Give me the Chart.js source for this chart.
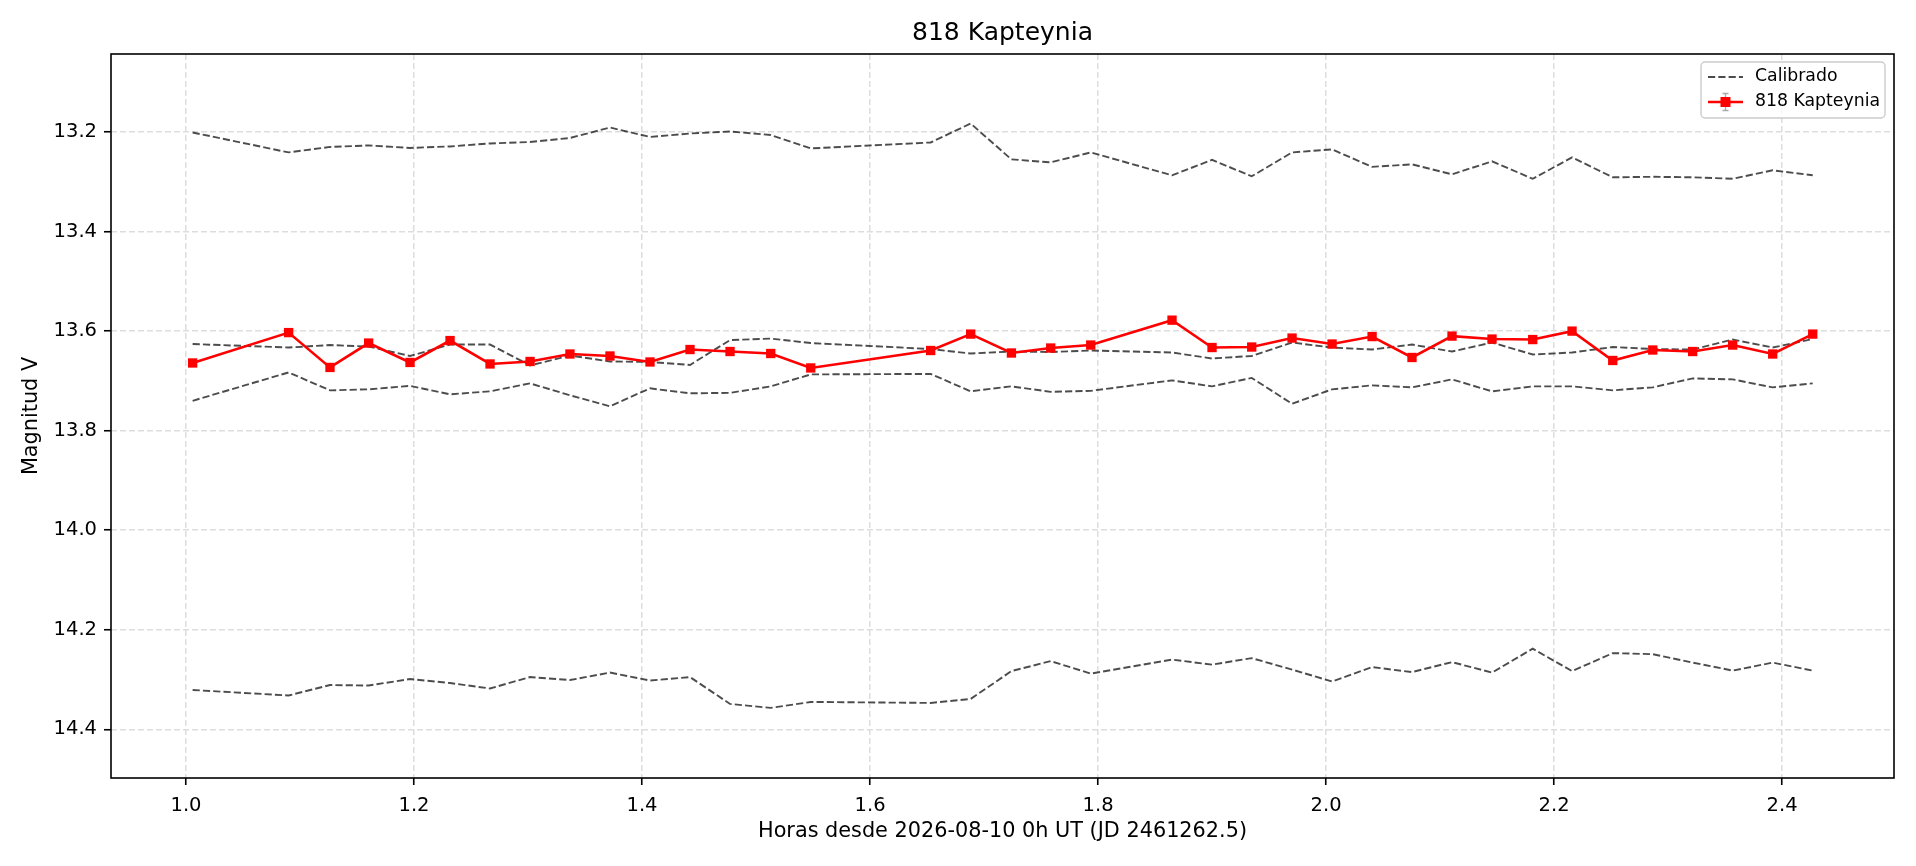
<!DOCTYPE html>
<html>
<head>
<meta charset="utf-8">
<title>818 Kapteynia</title>
<script src="https://cdn.jsdelivr.net/npm/chart.js@4.4.1/dist/chart.umd.min.js"></script>
<style>
    html, body { margin: 0; padding: 0; background: #ffffff; }
    #wrap { width: 1916px; height: 866px; }
</style>
</head>
<body>
<div id="wrap"><canvas id="lightCurve" width="1916" height="866"></canvas></div>
<script>
// ===============================
// DATA
// ===============================
const hours = [
    1.0058, 1.0900, 1.1263, 1.1602, 1.1965, 1.2316, 1.2667, 1.3018, 1.3368, 1.3719,
    1.4070, 1.4421, 1.4772, 1.5129, 1.5480, 1.6532, 1.6883, 1.7240, 1.7585, 1.7936,
    1.8649, 1.9000, 1.9348, 1.9702, 2.0053, 2.0404, 2.0754, 2.1105, 2.1456, 2.1813,
    2.2158, 2.2515, 2.2866, 2.3216, 2.3567, 2.3918, 2.4269
];

const targetMag = [
    13.664, 13.603, 13.673, 13.624, 13.663, 13.619, 13.666, 13.661, 13.646, 13.650,
    13.662, 13.637, 13.641, 13.645, 13.674, 13.639, 13.606, 13.644, 13.634, 13.628,
    13.578, 13.633, 13.632, 13.614, 13.626, 13.611, 13.653, 13.610, 13.616, 13.617,
    13.600, 13.659, 13.638, 13.641, 13.628, 13.646, 13.606
];

// calibrated comparison stars
const compUpper = [
    13.201, 13.241, 13.230, 13.227, 13.232, 13.229, 13.223, 13.220, 13.212, 13.191,
    13.210, 13.203, 13.199, 13.206, 13.233, 13.221, 13.183, 13.255, 13.261, 13.241,
    13.287, 13.256, 13.289, 13.241, 13.235, 13.270, 13.265, 13.285, 13.259, 13.294,
    13.251, 13.291, 13.290, 13.291, 13.294, 13.277, 13.287
];

const compMidA = [
    13.626, 13.633, 13.628, 13.631, 13.650, 13.627, 13.627, 13.669, 13.649, 13.661,
    13.662, 13.668, 13.618, 13.615, 13.624, 13.636, 13.645, 13.641, 13.642, 13.639,
    13.643, 13.655, 13.650, 13.623, 13.633, 13.637, 13.627, 13.641, 13.623, 13.647,
    13.643, 13.632, 13.636, 13.637, 13.617, 13.633, 13.616
];

const compMidB = [
    13.740, 13.683, 13.719, 13.717, 13.710, 13.727, 13.721, 13.705, 13.729, 13.751,
    13.715, 13.725, 13.724, 13.711, 13.687, 13.686, 13.721, 13.711, 13.722, 13.720,
    13.699, 13.711, 13.694, 13.746, 13.717, 13.709, 13.713, 13.697, 13.721, 13.711,
    13.711, 13.719, 13.713, 13.695, 13.697, 13.713, 13.705
];

const compLower = [
    14.321, 14.332, 14.311, 14.312, 14.299, 14.307, 14.318, 14.295, 14.301, 14.286,
    14.302, 14.295, 14.349, 14.357, 14.345, 14.347, 14.339, 14.283, 14.263, 14.288,
    14.260, 14.270, 14.257, 14.280, 14.304, 14.275, 14.285, 14.265, 14.286, 14.238,
    14.283, 14.247, 14.249, 14.266, 14.282, 14.266, 14.282
];

const xTickValues = [1.0, 1.2, 1.4, 1.6, 1.8, 2.0, 2.2, 2.4];
const yTickValues = [13.2, 13.4, 13.6, 13.8, 14.0, 14.2, 14.4];

const chartTitle = "818 Kapteynia";
const xTitle = "Horas desde 2026-08-10 0h UT (JD 2461262.5)";
const yTitle = "Magnitud V";

// ===============================
// STYLE
// ===============================
const FONT = "'DejaVu Sans', 'Liberation Sans', sans-serif";
const compColor = "rgba(0,0,0,0.7)";
const compDash = [7.2, 3.1];
const targetColor = "#ff0000";

function toPoints(values) {
    return hours.map((h, i) => ({ x: h, y: values[i] }));
}

function compDataset(label, values) {
    return {
        label: label,
        data: toPoints(values),
        borderColor: compColor,
        borderWidth: 1.9,
        borderDash: compDash,
        pointRadius: 0,
        pointHoverRadius: 0,
        fill: false,
        tension: 0,
        order: 1
    };
}

// ===============================
// PLUGINS
// ===============================

// full black frame round the plot area (matplotlib spines)
const framePlugin = {
    id: "frame",
    afterDraw(chart) {
        const { ctx, chartArea: a } = chart;
        ctx.save();
        ctx.strokeStyle = "#000000";
        ctx.lineWidth = 1.6;
        ctx.strokeRect(a.left, a.top, a.right - a.left, a.bottom - a.top);
        ctx.restore();
    }
};

// legend box in the upper right corner of the plot
const cornerLegend = {
    id: "cornerLegend",
    afterDraw(chart) {
        const ctx = chart.ctx;
        const a = chart.chartArea;
        const sets = chart.data.datasets;

        const boxW = 184, boxH = 56;
        const x0 = a.right - 9 - boxW;
        const y0 = a.top + 8;

        ctx.save();
        ctx.beginPath();
        ctx.roundRect(x0, y0, boxW, boxH, 4);
        ctx.fillStyle = "rgba(255,255,255,0.8)";
        ctx.fill();
        ctx.strokeStyle = "#cccccc";
        ctx.lineWidth = 1.4;
        ctx.stroke();

        const lx1 = x0 + 7, lx2 = x0 + 42, lxm = (lx1 + lx2) / 2;
        const row1 = y0 + 15, row2 = y0 + 40;

        // Calibrado
        ctx.beginPath();
        ctx.setLineDash(compDash);
        ctx.strokeStyle = compColor;
        ctx.lineWidth = 1.9;
        ctx.moveTo(lx1, row1);
        ctx.lineTo(lx2, row1);
        ctx.stroke();
        ctx.setLineDash([]);

        // 818 Kapteynia : error bar, line, square marker
        ctx.strokeStyle = "#aaaaaa";
        ctx.lineWidth = 1.3;
        ctx.beginPath();
        ctx.moveTo(lxm, row2 - 8.5); ctx.lineTo(lxm, row2 + 8.5);
        ctx.moveTo(lxm - 3, row2 - 8.5); ctx.lineTo(lxm + 3, row2 - 8.5);
        ctx.moveTo(lxm - 3, row2 + 8.5); ctx.lineTo(lxm + 3, row2 + 8.5);
        ctx.stroke();

        ctx.strokeStyle = targetColor;
        ctx.lineWidth = 2.6;
        ctx.beginPath();
        ctx.moveTo(lx1, row2);
        ctx.lineTo(lx2, row2);
        ctx.stroke();
        ctx.fillStyle = targetColor;
        ctx.fillRect(lxm - 5, row2 - 5, 10, 10);

        ctx.fillStyle = "#000000";
        ctx.font = "17.3px " + FONT;
        ctx.textBaseline = "middle";
        ctx.textAlign = "left";
        ctx.fillText(sets[1].label, x0 + 54, row1);
        ctx.fillText(sets[0].label, x0 + 54, row2);
        ctx.restore();
    }
};

// ===============================
// CHART
// ===============================
function renderLightCurve() {
    const ctx = document.getElementById("lightCurve");

    const datasets = [
        {
            label: "818 Kapteynia",
            data: toPoints(targetMag),
            borderColor: targetColor,
            backgroundColor: targetColor,
            borderWidth: 2.6,
            pointStyle: "rect",
            pointRadius: 6.6,
            pointBorderWidth: 0,
            pointHoverRadius: 6.6,
            fill: false,
            tension: 0,
            order: 0
        },
        compDataset("Calibrado", compUpper),
        compDataset("", compMidA),
        compDataset("", compMidB),
        compDataset("", compLower)
    ];

    const tickFont = { family: FONT, size: 19.5 };
    const labelFont = { family: FONT, size: 20.8 };

    new Chart(ctx, {
        type: "line",
        data: { datasets: datasets },
        options: {
            responsive: false,
            devicePixelRatio: 1,
            animation: false,
            layout: { padding: { left: 0, right: 22, top: 0, bottom: 0 } },
            plugins: {
                legend: { display: false },
                tooltip: { enabled: false },
                title: {
                    display: true,
                    fullSize: false,   // centre over the plot area, not the canvas
                    text: chartTitle,
                    color: "#000000",
                    font: { family: FONT, size: 25, weight: "normal" },
                    padding: { top: 18.5, bottom: 5.5 }
                }
            },
            scales: {
                x: {
                    type: "linear",
                    min: 0.9342,
                    max: 2.4982,
                    afterBuildTicks: scale => {
                        scale.ticks = xTickValues.map(v => ({ value: v }));
                    },
                    afterFit: scale => { scale.height = 88; },
                    ticks: {
                        color: "#000000",
                        font: tickFont,
                        padding: 9,
                        maxRotation: 0,
                        callback: v => Number(v).toFixed(1)
                    },
                    grid: {
                        color: "#dddddd",
                        lineWidth: 1.5,
                        tickLength: 7,
                        tickColor: "#000000",
                        tickWidth: 1.6,
                        tickBorderDash: []
                    },
                    border: { display: false, dash: [6, 3] },
                    title: {
                        display: true,
                        text: xTitle,
                        color: "#000000",
                        font: labelFont,
                        padding: { top: 0, bottom: 22 }
                    }
                },
                y: {
                    type: "linear",
                    reverse: true,
                    min: 13.0433,
                    max: 14.4978,
                    afterBuildTicks: scale => {
                        scale.ticks = yTickValues.map(v => ({ value: v }));
                    },
                    afterFit: scale => { scale.width = 111; },
                    ticks: {
                        color: "#000000",
                        font: tickFont,
                        padding: 7,
                        callback: v => Number(v).toFixed(1)
                    },
                    grid: {
                        color: "#dddddd",
                        lineWidth: 1.5,
                        tickLength: 7,
                        tickColor: "#000000",
                        tickWidth: 1.6,
                        tickBorderDash: []
                    },
                    border: { display: false, dash: [6, 3] },
                    title: {
                        display: true,
                        text: yTitle,
                        color: "#000000",
                        font: labelFont,
                        padding: { top: 19.5, bottom: 0 }
                    }
                }
            }
        },
        plugins: [framePlugin, cornerLegend]
    });
}

document.addEventListener("DOMContentLoaded", renderLightCurve);
</script>
</body>
</html>
